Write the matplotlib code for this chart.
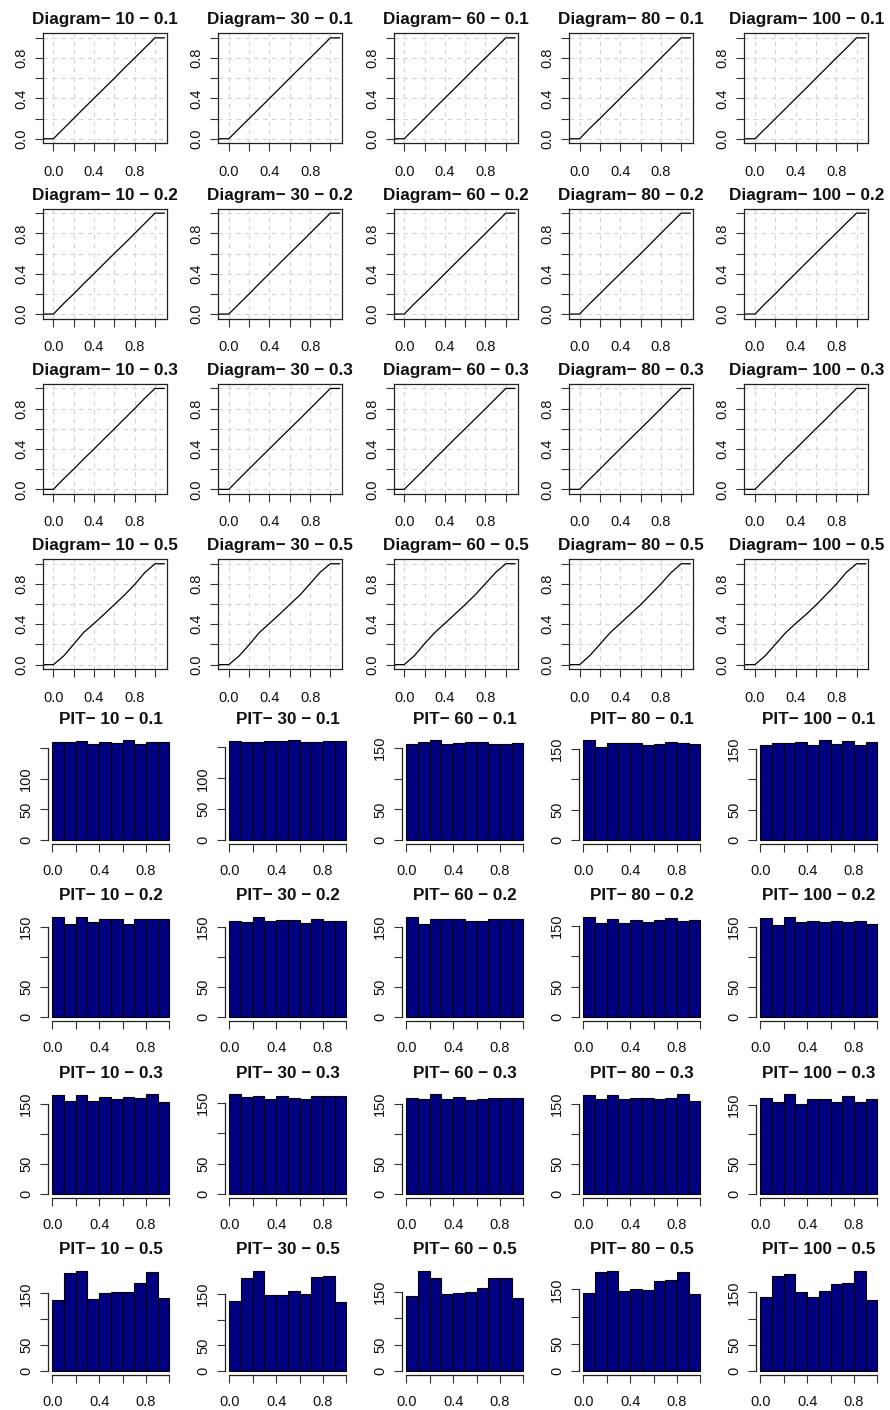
import matplotlib
matplotlib.use("Agg")
import matplotlib.pyplot as plt
import numpy as np

plt.rcParams['font.family'] = ['Liberation Sans', 'DejaVu Sans']

# ---- data ----
n_values = [10, 30, 60, 80, 100]
sd_values = ["0.1", "0.2", "0.3", "0.5"]
bin_edges = [0.0, 0.1, 0.2, 0.3, 0.4, 0.5, 0.6, 0.7, 0.8, 0.9, 1.0]
axis_ticks = [0.0, 0.2, 0.4, 0.6, 0.8, 1.0]
axis_labels = ["0.0", "", "0.4", "", "0.8", ""]
count_ticks = [0, 50, 100, 150]

# PIT histogram counts, one list per n value (10, 30, 60, 80, 100)
pit_counts_sd01 = [
    [160, 160, 162, 157, 159, 158, 163, 157, 159, 159],
    [160, 159, 159, 160, 161, 162, 159, 158, 160, 160],
    [157, 160, 163, 157, 158, 160, 160, 156, 156, 158],
    [165, 153, 160, 160, 160, 157, 159, 161, 160, 158],
    [157, 160, 160, 161, 156, 165, 158, 163, 156, 162],
]
pit_counts_sd02 = [
    [166, 155, 166, 157, 162, 162, 155, 162, 162, 162],
    [160, 158, 166, 160, 161, 161, 156, 162, 160, 160],
    [166, 154, 162, 162, 162, 160, 160, 162, 162, 162],
    [165, 155, 162, 155, 160, 156, 160, 164, 158, 160],
    [165, 153, 166, 158, 160, 157, 160, 157, 160, 155],
]
pit_counts_sd03 = [
    [165, 156, 165, 155, 162, 159, 162, 160, 167, 154],
    [165, 160, 162, 157, 162, 158, 157, 162, 161, 161],
    [160, 158, 167, 158, 162, 157, 158, 160, 160, 160],
    [164, 157, 164, 158, 160, 160, 158, 160, 166, 155],
    [162, 155, 168, 152, 160, 160, 155, 165, 154, 160],
]
pit_counts_sd05 = [
    [137, 189, 193, 139, 150, 153, 153, 169, 191, 141],
    [137, 182, 195, 148, 148, 156, 151, 183, 185, 135],
    [141, 189, 176, 146, 148, 150, 157, 176, 176, 138],
    [144, 182, 184, 148, 151, 149, 165, 167, 182, 142],
    [141, 182, 185, 150, 141, 153, 166, 168, 191, 136],
]
pit_rows = [pit_counts_sd01, pit_counts_sd02, pit_counts_sd03, pit_counts_sd05]

# visible count-axis labels per histogram row (R drops overlapping labels)
count_labels_sd01 = [
    ["0", "50", "100", ""], ["0", "50", "100", ""],
    ["0", "50", "", "150"], ["0", "50", "", "150"], ["0", "50", "", "150"],
]
count_labels_other = ["0", "50", "", "150"]

# ---- figure ----
W, H = 890, 1410
fig = plt.figure(figsize=(W / 100, H / 100), dpi=100)
fig.patch.set_facecolor("white")


def add_ax(left, top, w, h):
    return fig.add_axes([left / W, 1 - (top + h) / H, w / W, h / H])


MINUS = "\u2212"
TXT = "#111111"
TITLE_FS = 12.3
TICK_FS = 10.5

# Diagram (ECDF) panels
for r, sd in enumerate(sd_values):
    for c, n in enumerate(n_values):
        ax = add_ax(42.7 + 175.4 * c, 33.3 + 175.3 * r, 124, 110)
        counts = np.array(pit_rows[r][c], dtype=float)
        cum = np.concatenate([[0.0], np.cumsum(counts)]) / counts.sum()
        xs = np.concatenate([[-0.09], bin_edges, [1.09]])
        ys = np.concatenate([[0.0], cum, [1.0]])
        for v in axis_ticks:
            ax.axvline(v, color="#d3d3d3", lw=0.8, ls=(0, (4, 4)), zorder=0)
            ax.axhline(v, color="#d3d3d3", lw=0.8, ls=(0, (4, 4)), zorder=0)
        ax.plot(xs, ys, color="black", lw=0.9, zorder=3)
        ax.set_xlim(-0.105, 1.115)
        ax.set_ylim(-0.045, 1.045)
        ax.set_xticks(axis_ticks)
        ax.set_xticklabels(axis_labels)
        ax.set_yticks(axis_ticks)
        ax.set_yticklabels(axis_labels, rotation=90, va="center")
        ax.tick_params(axis="both", length=5.5, width=0.8, labelsize=TICK_FS,
                       colors="#333333", labelcolor=TXT)
        ax.tick_params(axis="x", pad=10)
        ax.tick_params(axis="y", pad=5)
        for s in ax.spines.values():
            s.set_linewidth(0.9)
            s.set_color("#222222")
        ax.set_title(f"Diagram{MINUS} {n} {MINUS} {sd}", fontsize=TITLE_FS,
                     fontweight="bold", pad=6.5, color=TXT)

# PIT histogram panels
for r, sd in enumerate(sd_values):
    for c, n in enumerate(n_values):
        ax = add_ax(47.6 + 177 * c, 736 + 177 * r, 126.4, 108)
        counts = pit_rows[r][c]
        ax.bar(bin_edges[:-1], counts, width=0.1, align="edge",
               color="#000080", edgecolor="black", linewidth=0.8)
        ymax = max(counts)
        ax.set_xlim(-0.04, 1.04)
        ax.set_ylim(-0.04 * ymax, 1.04 * ymax)
        for side in ("top", "right"):
            ax.spines[side].set_visible(False)
        ax.spines["left"].set_bounds(0, count_ticks[-1])
        ax.spines["bottom"].set_bounds(0, 1)
        for side in ("left", "bottom"):
            ax.spines[side].set_linewidth(0.9)
            ax.spines[side].set_color("#222222")
        ax.set_xticks(axis_ticks)
        ax.set_xticklabels(axis_labels)
        labels = count_labels_sd01[c] if r == 0 else count_labels_other
        ax.set_yticks(count_ticks)
        ax.set_yticklabels(labels, rotation=90, va="center")
        ax.tick_params(axis="both", length=5.5, width=0.8, labelsize=TICK_FS,
                       colors="#333333", labelcolor=TXT)
        ax.tick_params(axis="x", pad=9)
        ax.tick_params(axis="y", pad=5)
        ax.set_title(f"PIT{MINUS} {n} {MINUS} {sd}", fontsize=TITLE_FS,
                     fontweight="bold", pad=9, color=TXT)

fig.savefig("out.png", dpi=100, facecolor="white")
